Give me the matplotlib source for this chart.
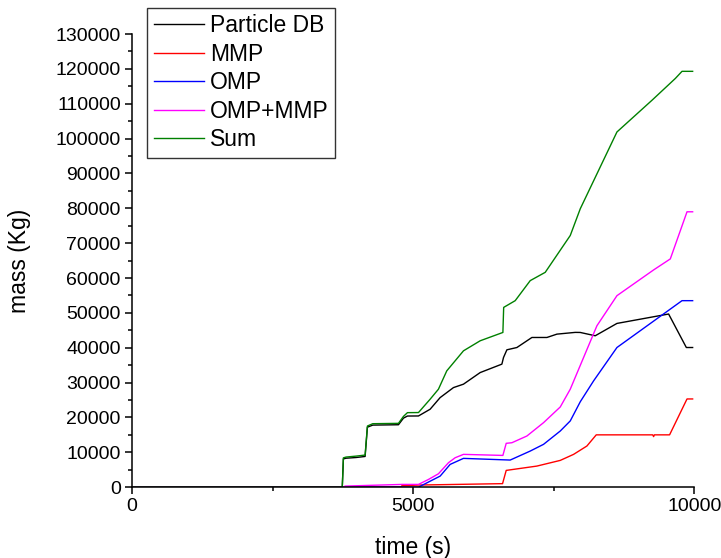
import matplotlib
matplotlib.use("Agg")
import matplotlib.pyplot as plt
from matplotlib.ticker import MultipleLocator

plt.rcParams['font.family'] = ['Liberation Sans', 'DejaVu Sans']

# ---- data ----
t_sum = [0, 3740, 3760, 3808, 3986, 4146, 4187, 4282, 4739, 4828, 4899, 5095, 5302, 5450,
         5598, 5895, 6192, 6596, 6610, 6815, 7082, 7349, 7794, 7972, 8624, 9247, 9662, 9781, 9970]
v_sum = [0, 0, 8400, 8630, 8900, 9200, 17540, 18200, 18300, 20300, 21370, 21400, 25220, 28100,
         33360, 39110, 41990, 44380, 51570, 53500, 59250, 61630, 72200, 79870, 101900, 111000,
         117250, 119300, 119300]

t_db = [0, 3740, 3760, 3808, 3986, 4146, 4187, 4282, 4739, 4828, 4899, 5095, 5302, 5480, 5717,
        5895, 6192, 6578, 6607, 6667, 6845, 7112, 7379, 7557, 7883, 7972, 8238, 8624, 9543,
        9858, 9970]
v_db = [0, 0, 8100, 8300, 8500, 8800, 17200, 17800, 17900, 19800, 20400, 20420, 22350, 25690,
        28560, 29540, 32870, 35290, 37190, 39400, 40060, 42940, 42940, 43900, 44400, 44380,
        43430, 46970, 49670, 40060, 40060]

t_omp = [0, 5095, 5302, 5480, 5658, 5895, 6726, 7082, 7319, 7616, 7794, 7972, 8209, 8624,
         9781, 9970]
v_omp = [0, 0, 1700, 3160, 6520, 8250, 7770, 10350, 12280, 16100, 19000, 24500, 30490, 40060,
         53500, 53500]

t_both = [0, 3760, 3790, 4800, 5095, 5272, 5450, 5628, 5747, 5895, 6596, 6655, 6756, 7023,
          7319, 7616, 7794, 8268, 8624, 9276, 9573, 9870, 9970]
v_both = [0, 0, 300, 780, 780, 2200, 3830, 7000, 8430, 9400, 9100, 12570, 12740, 14670,
          18500, 23000, 28100, 46300, 54930, 62320, 65480, 79000, 79000]

t_mmp = [0, 4780, 4800, 5095, 6590, 6655, 7200, 7616, 7853, 8090, 8256, 9260, 9276, 9290,
         9560, 9870, 9970]
v_mmp = [0, 0, 400, 600, 1000, 4800, 6040, 7670, 9400, 11800, 15000, 15000, 14500, 15000,
         15000, 25300, 25300]

labels = ["Particle DB", "MMP", "OMP", "OMP+MMP", "Sum"]
colors = ["#000000", "#ff0000", "#0000ff", "#ff00ff", "#008000"]

fig = plt.figure(figsize=(7.21, 5.58), dpi=100)
ax = fig.add_axes([0.183, 0.127, 0.780, 0.812])

series = [(t_db, v_db), (t_mmp, v_mmp), (t_omp, v_omp), (t_both, v_both), (t_sum, v_sum)]
for (t, v), lab, c in zip(series, labels, colors):
    ax.plot(t, v, color=c, lw=1.0, label=lab)

ax.set_xlim(0, 10000)
ax.set_ylim(0, 130000)
ax.xaxis.set_major_locator(MultipleLocator(5000))
ax.xaxis.set_minor_locator(MultipleLocator(2500))
ax.yaxis.set_major_locator(MultipleLocator(10000))
ax.yaxis.set_minor_locator(MultipleLocator(5000))
ax.spines['top'].set_visible(False)
ax.spines['right'].set_visible(False)
for s in ['left', 'bottom']:
    ax.spines[s].set_linewidth(1.1)
ax.tick_params(which='major', direction='out', length=5, width=1.1, labelsize=14, pad=3)
ax.tick_params(which='minor', direction='out', length=3, width=1.1)

ax.set_xlabel("time (s)", fontsize=16.5, labelpad=15)
ax.set_ylabel("mass (Kg)", fontsize=16.5, labelpad=18)

leg = ax.legend(loc='upper left', bbox_to_anchor=(0.204, 0.986), bbox_transform=fig.transFigure,
                fontsize=16.5, frameon=True, fancybox=False, handlelength=2.2,
                labelspacing=0.24, borderpad=0.28, handletextpad=0.25, borderaxespad=0)
leg.get_frame().set_edgecolor('black')
leg.get_frame().set_linewidth(1.0)

fig.savefig("out.png", dpi=100)
